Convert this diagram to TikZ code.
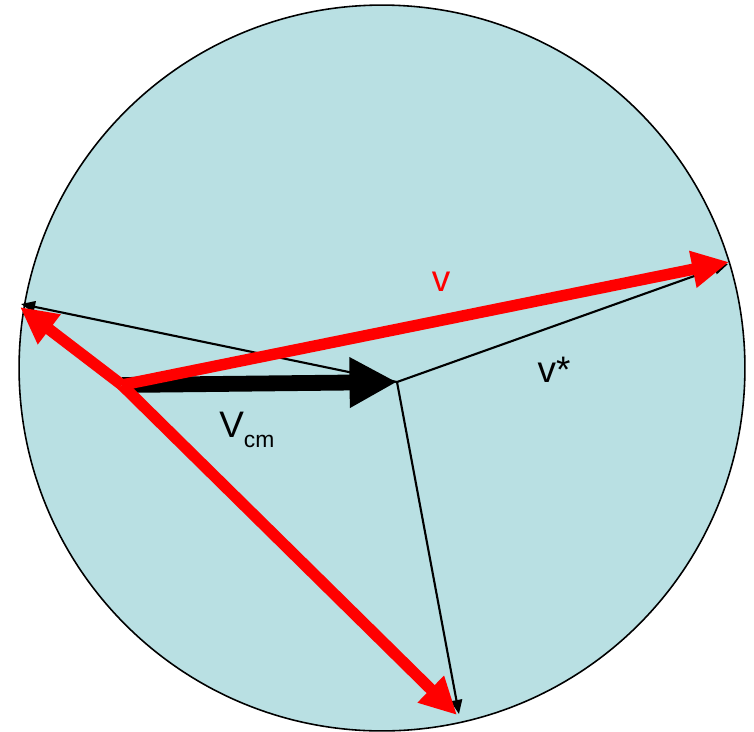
\documentclass[tikz,border=0pt]{standalone}
\usepackage{fontspec}
\setmainfont{Liberation Sans}
\usepackage{xcolor}
\usetikzlibrary{arrows.meta}
\definecolor{ballfill}{RGB}{185,224,227}
\tikzset{
	ball/.style={draw, line width=0.9pt, fill=ballfill},
	thinvec/.style={draw, line width=1.2pt, -{Triangle[length=8pt, width=6.5pt]}},
	redvec/.style={draw=red, line width=6.5pt, -{Triangle[length=21pt, width=20pt]}, red},
	cmvec/.style={draw, line width=9pt, -{Triangle[length=27pt, width=27pt]}},
	lbl/.style={font=\fontsize{21}{25}\selectfont, inner sep=0pt},
}
\begin{document}
\begin{tikzpicture}[x=0.02cm, y=-0.02cm]
	\useasboundingbox (0,0) rectangle (754,731);
	\path[ball] (382,368) circle[radius=7.26cm];
	\coordinate (o) at (122,385);
	\coordinate (c) at (397,382);
	\coordinate (tl) at (21,304);
	\coordinate (tr) at (728,264);
	\coordinate (tb) at (459,714);
	\coordinate (rl) at (20,307);
	\coordinate (rr) at (729,262);
	\coordinate (rb) at (457,715);
	% thin relative velocities
	\draw[thinvec] (c) -- (tl);
	\draw[thinvec] (c) -- (tr);
	\draw[thinvec] (c) -- (tb);
	% centre of mass velocity
	\draw[cmvec] (o) -- (c);
	% lab velocities
	\draw[redvec] (o) -- (rl);
	\draw[redvec] (o) -- (rr);
	\draw[redvec] (o) -- (rb);
	\node[lbl, text=red] (lblv) at (441,282) {v};
	\node[lbl] (lblvs) at (554,370) {v*};
	\node[lbl, anchor=base west] (lblvcm) at (219,437) {V\raisebox{-6pt}{\fontsize{13}{15}\selectfont cm}};
\end{tikzpicture}
\end{document}
